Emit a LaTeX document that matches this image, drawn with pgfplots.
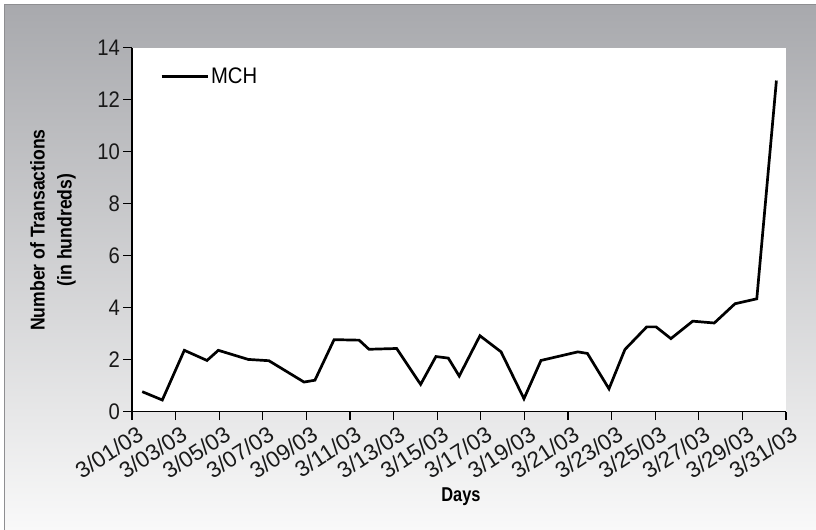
\documentclass[border=0pt]{standalone}
\usepackage{fontspec}
\setmainfont{Liberation Sans}[FakeStretch=0.9]
\newfontfamily\xfont{Liberation Sans}
\newfontfamily\labfont{Liberation Sans}[FakeStretch=0.88]
\newfontfamily\dayfont{Liberation Sans}[FakeStretch=0.82]
\usepackage{pgfplots}
\usepackage{pgfplotstable}
\pgfplotsset{compat=1.18}

\definecolor{frametop}{RGB}{168,169,173}
\definecolor{framebot}{RGB}{249,249,249}
\definecolor{frameline}{RGB}{142,142,145}

% days after 3/01/03, transactions in hundreds
\pgfplotstableread{
day val
0.47 0.77
1.39 0.45
2.40 2.36
3.44 1.97
3.96 2.36
5.33 2.01
6.28 1.96
7.89 1.14
8.39 1.21
9.27 2.77
10.42 2.75
10.87 2.40
12.14 2.43
13.24 1.05
13.94 2.12
14.51 2.06
15.01 1.37
15.96 2.92
16.93 2.30
17.98 0.50
18.76 1.97
20.45 2.30
20.89 2.24
21.88 0.88
22.61 2.39
23.61 3.26
24.04 3.26
24.72 2.81
25.72 3.48
26.71 3.41
27.66 4.15
28.66 4.34
29.56 12.73
}\mchtable

\begin{document}
\begin{tikzpicture}
\useasboundingbox (0bp,0bp) rectangle (816bp,-530bp);
\shade[top color=frametop, bottom color=framebot] (4.3bp,-4.3bp) rectangle (816bp,-530bp);
\draw[frameline, line width=1.3bp] (816bp,-4.3bp) -- (4.3bp,-4.3bp) -- (4.3bp,-530bp);

\begin{axis}[
at={(132bp,-411.7bp)}, anchor=south west,
scale only axis,
width=654bp, height=364.2bp,
axis background/.style={fill=white},
axis lines*=left,
axis line style={line width=1.3bp, black},
tick align=outside,
major tick length=8.5bp,
tick style={line width=1.3bp, black},
xmin=0, xmax=30,
ymin=0, ymax=14,
xtick={0,2,...,30},
xticklabels={3/01/03,3/03/03,3/05/03,3/07/03,3/09/03,3/11/03,3/13/03,3/15/03,3/17/03,3/19/03,3/21/03,3/23/03,3/25/03,3/27/03,3/29/03,3/31/03},
ytick={0,2,...,14},
/pgf/number format/assume math mode=true,
every tick label/.append style={font=\fontsize{22.5bp}{26bp}\selectfont, text=black!90},
every x tick label/.append style={font=\xfont\fontsize{22.5bp}{26bp}\selectfont,
  rotate=33, anchor=north east, inner sep=0bp, xshift=1bp, yshift=-6bp},
legend style={draw=none, fill=none, at={(0.043,0.92)}, anchor=west,
  font=\fontsize{22.5bp}{26bp}\selectfont, inner sep=0pt},
legend cell align=left,
legend image code/.code={\draw[line width=2.7bp] (0bp,0bp) -- (46bp,0bp);},
]
\addplot[black, line width=2.7bp] table[x=day, y=val] {\mchtable};
\addlegendentry{MCH}
\end{axis}

\node[rotate=90, align=center, font=\labfont\bfseries\fontsize{20bp}{27bp}\selectfont]
  at (53bp,-230bp) {Number of Transactions\\(in hundreds)};
\node[font=\dayfont\bfseries\fontsize{20bp}{22bp}\selectfont] at (461bp,-497bp) {Days};
\end{tikzpicture}
\end{document}
